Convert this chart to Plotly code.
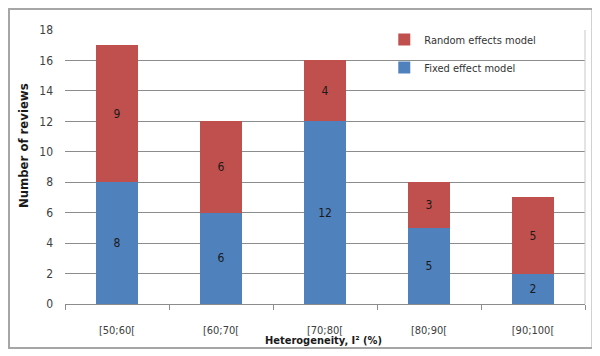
import plotly.graph_objects as go

categories = ["[50;60[", "[60;70[", "[70;80[", "[80;90[", "[90;100["]
fixed = [8, 6, 12, 5, 2]
random_eff = [9, 6, 4, 3, 5]
y_ticks = [0, 2, 4, 6, 8, 10, 12, 14, 16, 18]

FONT = "Liberation Sans Narrow, DejaVu Sans Condensed, Lato, sans-serif"
BLUE = "#4F81BD"
RED = "#C0504D"

fig = go.Figure()
fig.add_trace(go.Bar(
    x=categories, y=fixed, name="Fixed effect model",
    marker=dict(color=BLUE, line=dict(width=0)),
    text=fixed, textposition="inside", insidetextanchor="middle",
    textfont=dict(color="#1a1a1a", size=12, family=FONT),
    legendrank=2, legendgroup="fixed", width=0.4,
))
fig.add_trace(go.Bar(
    x=categories, y=random_eff, name="Random effects model",
    marker=dict(color=RED, line=dict(width=0)),
    text=random_eff, textposition="inside", insidetextanchor="middle",
    textfont=dict(color="#1a1a1a", size=12, family=FONT),
    legendrank=1, legendgroup="random", width=0.4,
))

fig.update_layout(
    barmode="stack",
    width=592, height=348,
    margin=dict(l=57, r=15, t=22, b=52),
    paper_bgcolor="white", plot_bgcolor="white",
    font=dict(family=FONT, size=12, color="#333333"),
    showlegend=True,
    legend=dict(
        x=0.614, y=1.018, xanchor="left", yanchor="top",
        tracegroupgap=9,
        bgcolor="rgba(0,0,0,0)", font=dict(size=11, color="#333333", family=FONT),
        itemwidth=30,
    ),
    xaxis=dict(
        showgrid=False, showline=True, linecolor="#8c8c8c", linewidth=1,
        ticks="outside", tickson="boundaries", ticklen=5, tickcolor="#8c8c8c",
        tickfont=dict(size=11, color="#404040"),
        ticklabelstandoff=16, automargin=False,
    ),
    yaxis=dict(
        range=[0, 18], tickvals=y_ticks, showgrid=True, gridcolor="#8c8c8c",
        gridwidth=1, zeroline=False, showline=False,
        ticks="", ticklabelstandoff=11,
        tickfont=dict(size=12, color="#404040"), automargin=False,
    ),
    shapes=[
        dict(type="rect", xref="paper", yref="paper", x0=-0.1077, x1=1.0144, y0=-0.1606, y1=1.0766,
             line=dict(color="#a6a6a6", width=2), fillcolor="rgba(0,0,0,0)", layer="below"),
        dict(type="line", xref="paper", yref="paper", x0=1, x1=1, y0=0, y1=1,
             line=dict(color="#c8c8c8", width=1)),
    ],
    annotations=[
        dict(text="<b>Heterogeneity, I² (%)</b>", xref="paper", yref="paper",
             x=0.498, y=-0.133, xanchor="center", yanchor="middle", showarrow=False,
             font=dict(size=11, color="#1a1a1a", family=FONT)),
        dict(text="<b>Number of reviews</b>", xref="paper", yref="paper",
             x=-0.0808, y=0.58, xanchor="center", yanchor="middle", showarrow=False,
             textangle=-90, font=dict(size=13, color="#1a1a1a", family=FONT)),
    ],
)

fig.write_html("out.html")
